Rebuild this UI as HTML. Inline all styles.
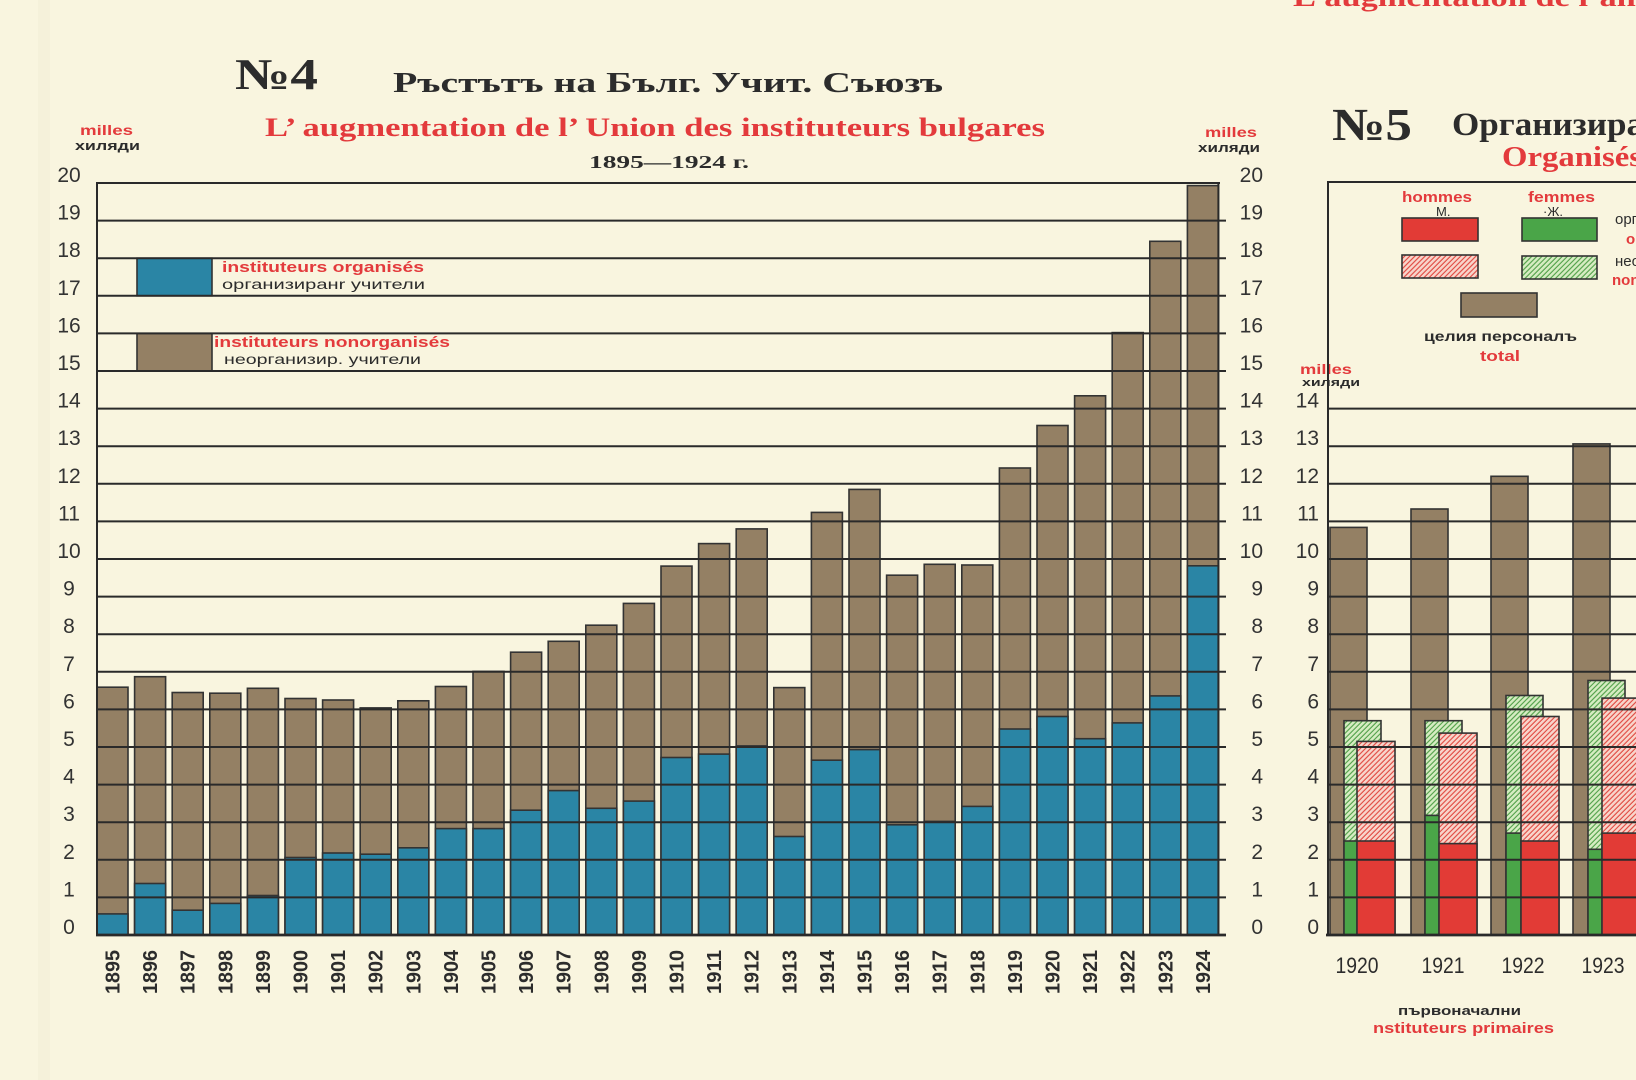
<!DOCTYPE html>
<html><head><meta charset="utf-8"><style>
html,body{margin:0;padding:0;background:#f9f5df;}
svg{display:block;}
.serif{font-family:"Liberation Serif","Noto Serif CJK SC",serif;font-weight:bold;}
.sans{font-family:"Liberation Sans","Noto Sans CJK SC",sans-serif;}
</style></head><body>
<svg width="1636" height="1080" viewBox="0 0 1636 1080" xmlns="http://www.w3.org/2000/svg">
<defs>
<pattern id="hr" width="3.6" height="3.6" patternUnits="userSpaceOnUse" patternTransform="rotate(45)">
<rect width="3.6" height="3.6" fill="#f8d5cb"/><line x1="0.8" y1="0" x2="0.8" y2="3.6" stroke="#e0473f" stroke-width="1.1"/></pattern>
<pattern id="hg" width="3.6" height="3.6" patternUnits="userSpaceOnUse" patternTransform="rotate(45)">
<rect width="3.6" height="3.6" fill="#d6ecc2"/><line x1="0.8" y1="0" x2="0.8" y2="3.6" stroke="#4f9f47" stroke-width="1.1"/></pattern>
</defs>
<rect width="1636" height="1080" fill="#f9f5df"/>
<rect x="38" y="0" width="12" height="1080" fill="#ece8d1" opacity="0.3"/>

<!-- Titles No4 -->
<text class="serif" x="235" y="89" font-size="44" fill="#2c2c2c" textLength="83" lengthAdjust="spacingAndGlyphs">№4</text>
<text class="serif" x="393" y="92" font-size="29" fill="#2c2c2c" textLength="550" lengthAdjust="spacingAndGlyphs">Ръстътъ на Бълг. Учит. Съюзъ</text>
<text class="serif" x="265" y="136" font-size="26" fill="#e33a3c" textLength="780" lengthAdjust="spacingAndGlyphs">L’ augmentation de l’ Union des instituteurs bulgares</text>
<text class="serif" x="589" y="168" font-size="18" fill="#2c2c2c" textLength="160" lengthAdjust="spacingAndGlyphs">1895—1924 г.</text>

<text class="sans" x="80" y="135" font-size="14" font-weight="bold" fill="#e33a3c" textLength="53" lengthAdjust="spacingAndGlyphs">milles</text>
<text class="sans" x="75" y="150" font-size="13" font-weight="bold" fill="#2c2c2c" textLength="65" lengthAdjust="spacingAndGlyphs">хиляди</text>
<text class="sans" x="1205" y="137" font-size="14" font-weight="bold" fill="#e33a3c" textLength="52" lengthAdjust="spacingAndGlyphs">milles</text>
<text class="sans" x="1198" y="152" font-size="13" font-weight="bold" fill="#2c2c2c" textLength="62" lengthAdjust="spacingAndGlyphs">хиляди</text>

<!-- Bars No4 -->
<g stroke="#333" stroke-width="1.6">
<g fill="#948064">
<rect x="97.0" y="687.2" width="31" height="247.8"/>
<rect x="134.6" y="676.7" width="31" height="258.3"/>
<rect x="172.2" y="692.5" width="31" height="242.5"/>
<rect x="209.8" y="693.2" width="31" height="241.8"/>
<rect x="247.4" y="688.3" width="31" height="246.7"/>
<rect x="285.0" y="698.5" width="31" height="236.5"/>
<rect x="322.6" y="700.0" width="31" height="235.0"/>
<rect x="360.2" y="707.9" width="31" height="227.1"/>
<rect x="397.8" y="700.8" width="31" height="234.2"/>
<rect x="435.4" y="686.5" width="31" height="248.5"/>
<rect x="473.0" y="671.4" width="31" height="263.6"/>
<rect x="510.6" y="652.2" width="31" height="282.8"/>
<rect x="548.2" y="641.3" width="31" height="293.7"/>
<rect x="585.8" y="625.2" width="31" height="309.8"/>
<rect x="623.4" y="603.4" width="31" height="331.6"/>
<rect x="661.0" y="566.1" width="31" height="368.9"/>
<rect x="698.6" y="543.6" width="31" height="391.4"/>
<rect x="736.2" y="528.9" width="31" height="406.1"/>
<rect x="773.8" y="687.6" width="31" height="247.4"/>
<rect x="811.4" y="512.4" width="31" height="422.6"/>
<rect x="849.0" y="489.4" width="31" height="445.6"/>
<rect x="886.6" y="575.2" width="31" height="359.8"/>
<rect x="924.2" y="564.3" width="31" height="370.7"/>
<rect x="961.8" y="565.0" width="31" height="370.0"/>
<rect x="999.4" y="468.0" width="31" height="467.0"/>
<rect x="1037.0" y="425.5" width="31" height="509.5"/>
<rect x="1074.6" y="395.8" width="31" height="539.2"/>
<rect x="1112.2" y="332.6" width="31" height="602.4"/>
<rect x="1149.8" y="241.3" width="31" height="693.7"/>
<rect x="1187.4" y="185.6" width="31" height="749.4"/>
</g>
<g fill="#2a85a5">
<rect x="97.0" y="913.9" width="31" height="21.1"/>
<rect x="134.6" y="883.5" width="31" height="51.5"/>
<rect x="172.2" y="910.2" width="31" height="24.8"/>
<rect x="209.8" y="903.4" width="31" height="31.6"/>
<rect x="247.4" y="895.5" width="31" height="39.5"/>
<rect x="285.0" y="857.5" width="31" height="77.5"/>
<rect x="322.6" y="853.0" width="31" height="82.0"/>
<rect x="360.2" y="854.2" width="31" height="80.8"/>
<rect x="397.8" y="847.8" width="31" height="87.2"/>
<rect x="435.4" y="828.6" width="31" height="106.4"/>
<rect x="473.0" y="828.6" width="31" height="106.4"/>
<rect x="510.6" y="810.2" width="31" height="124.8"/>
<rect x="548.2" y="790.6" width="31" height="144.4"/>
<rect x="585.8" y="808.3" width="31" height="126.7"/>
<rect x="623.4" y="801.1" width="31" height="133.9"/>
<rect x="661.0" y="757.5" width="31" height="177.5"/>
<rect x="698.6" y="754.1" width="31" height="180.9"/>
<rect x="736.2" y="745.9" width="31" height="189.1"/>
<rect x="773.8" y="836.5" width="31" height="98.5"/>
<rect x="811.4" y="760.2" width="31" height="174.8"/>
<rect x="849.0" y="749.6" width="31" height="185.4"/>
<rect x="886.6" y="824.8" width="31" height="110.2"/>
<rect x="924.2" y="821.4" width="31" height="113.6"/>
<rect x="961.8" y="806.4" width="31" height="128.6"/>
<rect x="999.4" y="729.0" width="31" height="206.0"/>
<rect x="1037.0" y="716.5" width="31" height="218.5"/>
<rect x="1074.6" y="738.7" width="31" height="196.3"/>
<rect x="1112.2" y="722.9" width="31" height="212.1"/>
<rect x="1149.8" y="695.9" width="31" height="239.1"/>
<rect x="1187.4" y="565.8" width="31" height="369.2"/>
</g>
<!-- legend boxes -->
<rect x="137" y="258.2" width="75" height="37.6" fill="#2a85a5"/>
<rect x="137" y="333.4" width="75" height="37.6" fill="#948064"/>
</g>

<!-- Gridlines No4 -->
<g stroke="#2a2a2a" stroke-width="2" fill="none">
<path d="M97 183H1220 M97 220.6H1226 M97 258.2H1226 M97 295.8H1226 M97 333.4H1226 M97 371H1226 M97 408.6H1226 M97 446.2H1226 M97 483.8H1226 M97 521.4H1226 M97 559H1226 M97 596.6H1226 M97 634.2H1226 M97 671.8H1226 M97 709.4H1226 M97 747H1226 M97 784.6H1226 M97 822.2H1226 M97 859.8H1226 M97 897.4H1226"/>
<path d="M96 935H1226" stroke-width="2.8"/>
<path d="M97 182V936 M1218.4 182V936" stroke-width="2"/>
</g>

<!-- legend text No4 -->
<text class="sans" x="222" y="272" font-size="15" font-weight="bold" fill="#e33a3c" textLength="202" lengthAdjust="spacingAndGlyphs">instituteurs organisés</text>
<text class="sans" x="222" y="289" font-size="14" fill="#2c2c2c" textLength="203" lengthAdjust="spacingAndGlyphs">организиранr учители</text>
<text class="sans" x="214" y="347" font-size="15" font-weight="bold" fill="#e33a3c" textLength="236" lengthAdjust="spacingAndGlyphs">instituteurs nonorganisés</text>
<text class="sans" x="224" y="364" font-size="14" fill="#2c2c2c" textLength="197" lengthAdjust="spacingAndGlyphs">неорганизир. учители</text>

<!-- Y labels left -->
<g class="sans" font-size="21" fill="#333" text-anchor="middle">
<text x="69" y="182">20</text><text x="69" y="219.6">19</text><text x="69" y="257.2">18</text><text x="69" y="294.8">17</text><text x="69" y="332.4">16</text><text x="69" y="370">15</text><text x="69" y="407.6">14</text><text x="69" y="445.2">13</text><text x="69" y="482.8">12</text><text x="69" y="520.4">11</text><text x="69" y="558">10</text><text x="69" y="595.6">9</text><text x="69" y="633.2">8</text><text x="69" y="670.8">7</text><text x="69" y="708.4">6</text><text x="69" y="746">5</text><text x="69" y="783.6">4</text><text x="69" y="821.2">3</text><text x="69" y="858.8">2</text><text x="69" y="896.4">1</text><text x="69" y="934">0</text>
</g>
<!-- Y labels right -->
<g class="sans" font-size="21" fill="#333" text-anchor="end">
<text x="1263" y="182">20</text><text x="1263" y="219.6">19</text><text x="1263" y="257.2">18</text><text x="1263" y="294.8">17</text><text x="1263" y="332.4">16</text><text x="1263" y="370">15</text><text x="1263" y="407.6">14</text><text x="1263" y="445.2">13</text><text x="1263" y="482.8">12</text><text x="1263" y="520.4">11</text><text x="1263" y="558">10</text><text x="1263" y="595.6">9</text><text x="1263" y="633.2">8</text><text x="1263" y="670.8">7</text><text x="1263" y="708.4">6</text><text x="1263" y="746">5</text><text x="1263" y="783.6">4</text><text x="1263" y="821.2">3</text><text x="1263" y="858.8">2</text><text x="1263" y="896.4">1</text><text x="1263" y="934">0</text>
</g>

<!-- X labels No4 (rotated) -->
<g class="sans" font-size="20" font-weight="bold" fill="#2c2c2c">
<text transform="translate(119.5,994) rotate(-90)" textLength="44" lengthAdjust="spacingAndGlyphs">1895</text>
<text transform="translate(157.1,994) rotate(-90)" textLength="44" lengthAdjust="spacingAndGlyphs">1896</text>
<text transform="translate(194.7,994) rotate(-90)" textLength="44" lengthAdjust="spacingAndGlyphs">1897</text>
<text transform="translate(232.3,994) rotate(-90)" textLength="44" lengthAdjust="spacingAndGlyphs">1898</text>
<text transform="translate(269.9,994) rotate(-90)" textLength="44" lengthAdjust="spacingAndGlyphs">1899</text>
<text transform="translate(307.5,994) rotate(-90)" textLength="44" lengthAdjust="spacingAndGlyphs">1900</text>
<text transform="translate(345.1,994) rotate(-90)" textLength="44" lengthAdjust="spacingAndGlyphs">1901</text>
<text transform="translate(382.7,994) rotate(-90)" textLength="44" lengthAdjust="spacingAndGlyphs">1902</text>
<text transform="translate(420.3,994) rotate(-90)" textLength="44" lengthAdjust="spacingAndGlyphs">1903</text>
<text transform="translate(457.9,994) rotate(-90)" textLength="44" lengthAdjust="spacingAndGlyphs">1904</text>
<text transform="translate(495.5,994) rotate(-90)" textLength="44" lengthAdjust="spacingAndGlyphs">1905</text>
<text transform="translate(533.1,994) rotate(-90)" textLength="44" lengthAdjust="spacingAndGlyphs">1906</text>
<text transform="translate(570.7,994) rotate(-90)" textLength="44" lengthAdjust="spacingAndGlyphs">1907</text>
<text transform="translate(608.3,994) rotate(-90)" textLength="44" lengthAdjust="spacingAndGlyphs">1908</text>
<text transform="translate(645.9,994) rotate(-90)" textLength="44" lengthAdjust="spacingAndGlyphs">1909</text>
<text transform="translate(683.5,994) rotate(-90)" textLength="44" lengthAdjust="spacingAndGlyphs">1910</text>
<text transform="translate(721.1,994) rotate(-90)" textLength="44" lengthAdjust="spacingAndGlyphs">1911</text>
<text transform="translate(758.7,994) rotate(-90)" textLength="44" lengthAdjust="spacingAndGlyphs">1912</text>
<text transform="translate(796.3,994) rotate(-90)" textLength="44" lengthAdjust="spacingAndGlyphs">1913</text>
<text transform="translate(833.9,994) rotate(-90)" textLength="44" lengthAdjust="spacingAndGlyphs">1914</text>
<text transform="translate(871.5,994) rotate(-90)" textLength="44" lengthAdjust="spacingAndGlyphs">1915</text>
<text transform="translate(909.1,994) rotate(-90)" textLength="44" lengthAdjust="spacingAndGlyphs">1916</text>
<text transform="translate(946.7,994) rotate(-90)" textLength="44" lengthAdjust="spacingAndGlyphs">1917</text>
<text transform="translate(984.3,994) rotate(-90)" textLength="44" lengthAdjust="spacingAndGlyphs">1918</text>
<text transform="translate(1021.9,994) rotate(-90)" textLength="44" lengthAdjust="spacingAndGlyphs">1919</text>
<text transform="translate(1059.5,994) rotate(-90)" textLength="44" lengthAdjust="spacingAndGlyphs">1920</text>
<text transform="translate(1097.1,994) rotate(-90)" textLength="44" lengthAdjust="spacingAndGlyphs">1921</text>
<text transform="translate(1134.7,994) rotate(-90)" textLength="44" lengthAdjust="spacingAndGlyphs">1922</text>
<text transform="translate(1172.3,994) rotate(-90)" textLength="44" lengthAdjust="spacingAndGlyphs">1923</text>
<text transform="translate(1209.9,994) rotate(-90)" textLength="44" lengthAdjust="spacingAndGlyphs">1924</text>
</g>

<!-- ===== No5 ===== -->
<text class="serif" x="1293" y="6" font-size="26" fill="#e33a3c" textLength="360" lengthAdjust="spacingAndGlyphs">L’augmentation de l’ana</text>
<text class="serif" x="1332" y="140" font-size="46" fill="#2c2c2c" textLength="80" lengthAdjust="spacingAndGlyphs">№5</text>
<text class="serif" x="1452" y="135" font-size="33" fill="#2c2c2c" textLength="192" lengthAdjust="spacingAndGlyphs">Организира</text>
<text class="serif" x="1502" y="166" font-size="28" fill="#e33a3c" textLength="140" lengthAdjust="spacingAndGlyphs">Organisés</text>

<!-- No5 legend -->
<text class="sans" x="1402" y="202" font-size="15" font-weight="bold" fill="#e33a3c" textLength="70" lengthAdjust="spacingAndGlyphs">hommes</text>
<text class="sans" x="1436" y="216" font-size="13" fill="#2c2c2c">М.</text>
<text class="sans" x="1528" y="202" font-size="15" font-weight="bold" fill="#e33a3c" textLength="67" lengthAdjust="spacingAndGlyphs">femmes</text>
<text class="sans" x="1543" y="216" font-size="13" fill="#2c2c2c">·Ж.</text>
<g stroke="#333" stroke-width="1.6">
<rect x="1402" y="218" width="76" height="23" fill="#e23b36"/>
<rect x="1402" y="255" width="76" height="23" fill="url(#hr)"/>
<rect x="1522" y="218" width="75" height="23" fill="#4aa548"/>
<rect x="1522" y="256" width="75" height="23" fill="url(#hg)"/>
<rect x="1461" y="293" width="76" height="24" fill="#948064"/>
</g>
<text class="sans" x="1424" y="341" font-size="14" font-weight="bold" fill="#2c2c2c" textLength="153" lengthAdjust="spacingAndGlyphs">целия персоналъ</text>
<text class="sans" x="1480" y="361" font-size="15" font-weight="bold" fill="#e33a3c" textLength="40" lengthAdjust="spacingAndGlyphs">total</text>
<text class="sans" x="1615" y="224" font-size="15" fill="#2c2c2c">организ.</text>
<text class="sans" x="1626" y="244" font-size="15" font-weight="bold" fill="#e33a3c">organisés</text>
<text class="sans" x="1615" y="266" font-size="15" fill="#2c2c2c">неорган.</text>
<text class="sans" x="1612" y="285" font-size="15" font-weight="bold" fill="#e33a3c">nonorganisés</text>

<text class="sans" x="1300" y="374" font-size="14" font-weight="bold" fill="#e33a3c" textLength="52" lengthAdjust="spacingAndGlyphs">milles</text>
<text class="sans" x="1302" y="386" font-size="11" font-weight="bold" fill="#2c2c2c" textLength="58" lengthAdjust="spacingAndGlyphs">хиляди</text>

<!-- No5 bars -->
<g stroke="#333" stroke-width="1.6">
<rect x="1330" y="527.4" width="37" height="407.6" fill="#948064"/>
<rect x="1344" y="720.7" width="37" height="214.3" fill="url(#hg)"/>
<rect x="1344" y="841.0" width="37" height="94.0" fill="#4aa548"/>
<rect x="1357" y="741.4" width="38" height="193.6" fill="url(#hr)"/>
<rect x="1357" y="841.0" width="38" height="94.0" fill="#e23b36"/>

<rect x="1411" y="509.0" width="37" height="426.0" fill="#948064"/>
<rect x="1425" y="720.7" width="37" height="214.3" fill="url(#hg)"/>
<rect x="1425" y="815.4" width="37" height="119.6" fill="#4aa548"/>
<rect x="1439" y="733.1" width="38" height="201.9" fill="url(#hr)"/>
<rect x="1439" y="843.6" width="38" height="91.4" fill="#e23b36"/>

<rect x="1491" y="476.3" width="37" height="458.7" fill="#948064"/>
<rect x="1506" y="695.5" width="37" height="239.5" fill="url(#hg)"/>
<rect x="1506" y="833.1" width="37" height="101.9" fill="#4aa548"/>
<rect x="1521" y="716.5" width="38" height="218.5" fill="url(#hr)"/>
<rect x="1521" y="841.0" width="38" height="94.0" fill="#e23b36"/>

<rect x="1573" y="443.9" width="37" height="491.1" fill="#948064"/>
<rect x="1588" y="680.5" width="37" height="254.5" fill="url(#hg)"/>
<rect x="1588" y="849.3" width="37" height="85.7" fill="#4aa548"/>
<rect x="1602" y="698.1" width="38" height="236.9" fill="url(#hr)"/>
<rect x="1602" y="833.1" width="38" height="101.9" fill="#e23b36"/>
</g>

<!-- No5 gridlines -->
<g stroke="#2a2a2a" stroke-width="2" fill="none">
<path d="M1328 182H1636 M1328 408.6H1636 M1328 446.2H1636 M1328 483.8H1636 M1328 521.4H1636 M1328 559H1636 M1328 596.6H1636 M1328 634.2H1636 M1328 671.8H1636 M1328 709.4H1636 M1328 747H1636 M1328 784.6H1636 M1328 822.2H1636 M1328 859.8H1636 M1328 897.4H1636"/>
<path d="M1326 935H1636" stroke-width="2.8"/>
<path d="M1328 181V936"/>
</g>

<g class="sans" font-size="21" fill="#333" text-anchor="end">
<text x="1319" y="407.6">14</text><text x="1319" y="445.2">13</text><text x="1319" y="482.8">12</text><text x="1319" y="520.4">11</text><text x="1319" y="558">10</text><text x="1319" y="595.6">9</text><text x="1319" y="633.2">8</text><text x="1319" y="670.8">7</text><text x="1319" y="708.4">6</text><text x="1319" y="746">5</text><text x="1319" y="783.6">4</text><text x="1319" y="821.2">3</text><text x="1319" y="858.8">2</text><text x="1319" y="896.4">1</text><text x="1319" y="934">0</text>
</g>

<g class="sans" font-size="22" fill="#2c2c2c" text-anchor="middle">
<text x="1357" y="973" textLength="43" lengthAdjust="spacingAndGlyphs">1920</text>
<text x="1443" y="973" textLength="43" lengthAdjust="spacingAndGlyphs">1921</text>
<text x="1523" y="973" textLength="43" lengthAdjust="spacingAndGlyphs">1922</text>
<text x="1603" y="973" textLength="43" lengthAdjust="spacingAndGlyphs">1923</text>
</g>
<text class="sans" x="1398" y="1015" font-size="13" font-weight="bold" fill="#2c2c2c" textLength="123" lengthAdjust="spacingAndGlyphs">първоначални</text>
<text class="sans" x="1373" y="1033" font-size="15" font-weight="bold" fill="#e33a3c" textLength="181" lengthAdjust="spacingAndGlyphs">nstituteurs primaires</text>
</svg>
</body></html>
